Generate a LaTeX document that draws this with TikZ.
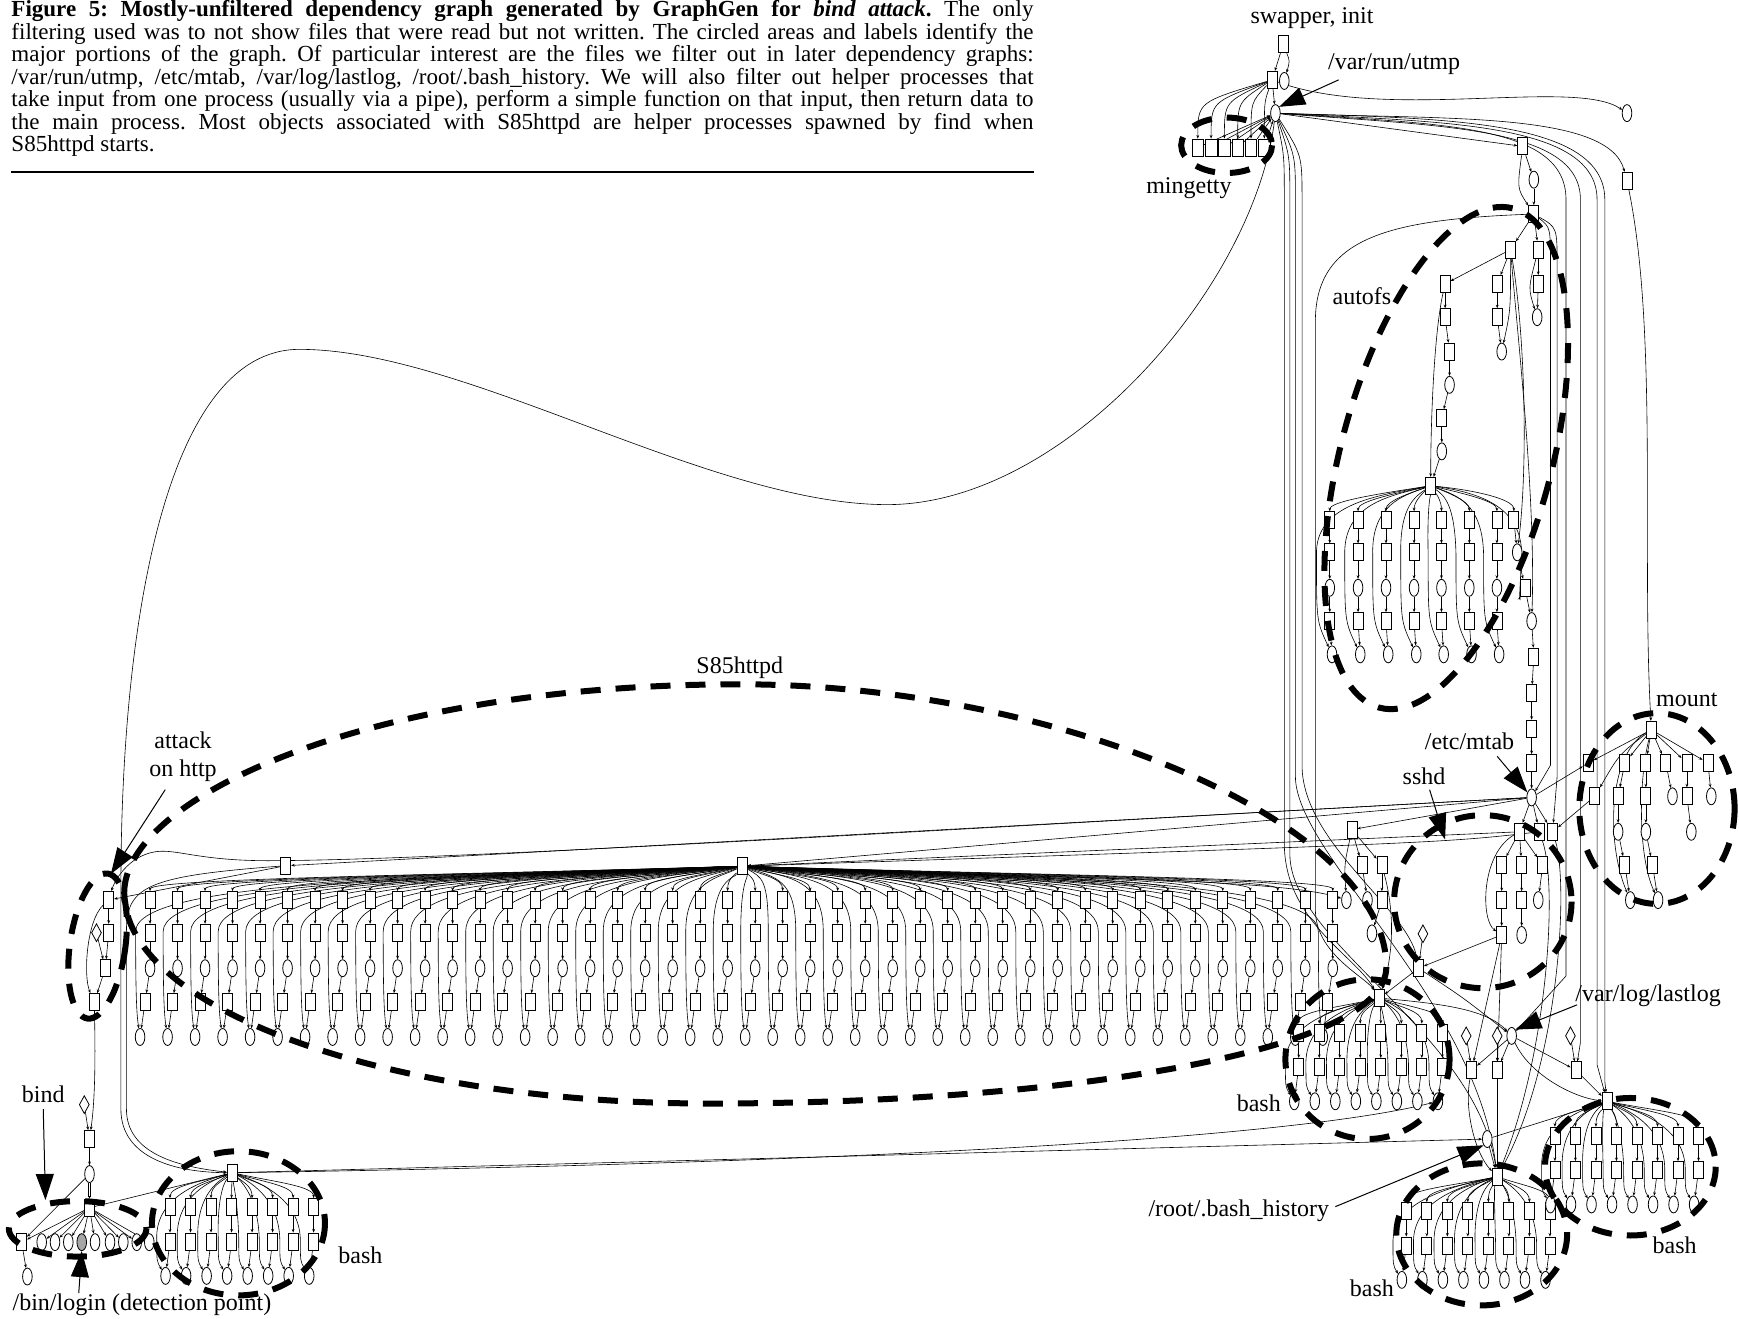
\documentclass[tikz,border=0pt]{standalone}
\usepackage{fontspec}
\setmainfont{Liberation Serif}
\usetikzlibrary{shapes.geometric,arrows.meta}
\pgfdeclarelayer{bg}
\pgfsetlayers{bg,main}
\frenchspacing
\newcommand\bashgrp[4]{%
  \node[sq] (#1) at (#2,#3) {};
  \foreach \i in {0,...,7}{%
    \pgfmathsetmacro\xx{#4+18.5*\i}%
    \node[sq] (#1a\i) at (\xx,#3+31) {};
    \node[sq] (#1b\i) at (\xx,#3+62) {};
    \node[el] (#1c\i) at (\xx-4,#3+93) {};
    \begin{pgfonlayer}{bg}
    \draw[ed] (#1) .. controls ({(#2+\xx)/2},#3+8) and (\xx,#3+12) .. (#1a\i);
    \draw[ed] (#1a\i) -- (#1b\i);
    \draw[ed] (#1b\i) -- (#1c\i);
    \draw[ed] (#1) .. controls ({(#2+\xx)/2-8},#3+10) and (\xx-13,#3+25) .. (\xx-12,#3+60) .. controls (\xx-12,#3+80) .. (#1c\i);
    \end{pgfonlayer}
  }}
\begin{document}
\begin{tikzpicture}[x=0.5545pt,y=-0.5545pt,
 sq/.style={draw, rectangle, line width=0.4pt, minimum width=5pt, minimum height=8.5pt, inner sep=0pt, fill=white},
 el/.style={draw, ellipse, line width=0.4pt, minimum width=4.8pt, minimum height=8.5pt, inner sep=0pt, fill=white},
 dm/.style={draw, diamond, line width=0.4pt, minimum width=5pt, minimum height=9pt, inner sep=0pt, fill=white},
 ed/.style={line width=0.3pt, -{Stealth[length=1.8pt,width=1.4pt]}},
 zone/.style={line width=3pt, dash pattern=on 10pt off 7.5pt},
 bigarr/.style={line width=0.5pt, -{Triangle[length=13pt,width=9pt]}},
 lbl/.style={font=\fontsize{12}{14}\selectfont, inner sep=0pt},
 capl/.style={font=\fontsize{11.5}{12}\selectfont, inner sep=0pt, anchor=base west}]
\useasboundingbox (0,0) rectangle (1568,1189);

% ---------------- caption ----------------
\node[capl] (cl1) at (10,15) {\makebox[511pt][s]{\textbf{Figure 5: Mostly-unfiltered dependency graph generated by GraphGen for \textit{bind attack}.} The only}};
\node[capl] (cl2) at (10,35.3) {\makebox[511pt][s]{filtering used was to not show files that were read but not written. The circled areas and labels identify the}};
\node[capl] (cl3) at (10,55.7) {\makebox[511pt][s]{major portions of the graph. Of particular interest are the files we filter out in later dependency graphs:}};
\node[capl] (cl4) at (10,76) {\makebox[511pt][s]{/var/run/utmp, /etc/mtab, /var/log/lastlog, /root/.bash\_history. We will also filter out helper processes that}};
\node[capl] (cl5) at (10,96.3) {\makebox[511pt][s]{take input from one process (usually via a pipe), perform a simple function on that input, then return data to}};
\node[capl] (cl6) at (10,116.7) {\makebox[511pt][s]{the main process. Most objects associated with S85httpd are helper processes spawned by find when}};
\node[capl] (cl7) at (10,137) {S85httpd starts.};
\coordinate (rl) at (10,155); \coordinate (rr) at (932,155);
\draw[line width=0.7pt] (rl) -- (rr);

% ---------------- top: swapper / init / utmp ----------------
\node[sq] (sw) at (1157,40) {};
\node[sq] (init) at (1147,72) {};
\node[el] (iel) at (1158,73) {};
\node[el] (utmp) at (1150,102) {};
\foreach \i in {0,...,5}{\node[sq, minimum width=5.8pt] (mg\i) at ({1080+12*\i},133) {};}
\node[el] (e1) at (1467,102) {};
\node[sq] (r1) at (1373,132) {};
\node[el] (r2) at (1383,162) {};
\node[sq] (ar) at (1383,193) {};
\node[sq] (r3) at (1467,163) {};

% ---------------- autofs ----------------
\node[sq] (a1) at (1362,225) {};
\node[sq] (a2) at (1387,225) {};
\node[sq] (b1) at (1350,256) {};
\node[sq] (a3) at (1387,256) {};
\node[sq] (b2) at (1350,286) {};
\node[el] (a4) at (1386,286) {};
\node[el] (b3) at (1354,317) {};
\node[sq] (c0) at (1303,256) {};
\node[sq] (c1) at (1303,286) {};
\node[sq] (c2) at (1307,317) {};
\node[el] (c3) at (1307,347) {};
\node[sq] (c4) at (1300,377) {};
\node[el] (c5) at (1300,407) {};
\node[sq] (AH) at (1290,438) {};
\foreach \x [count=\j] in {1199,1224.5,1249.7,1275,1299.7,1324.8,1349.7}{
  \node[sq] (fa\j) at (\x,469) {};
  \node[sq] (fb\j) at (\x,498) {};
  \node[el] (fc\j) at (\x,530) {};
  \node[sq] (fd\j) at (\x,560) {};
  \node[el] (fe\j) at (\x+2,590) {};
  \begin{pgfonlayer}{bg}
  \draw[ed] (AH) .. controls ({(1290+\x)/2},445) and (\x,452) .. (fa\j);
  \draw[ed] (fa\j) -- (fb\j);
  \draw[ed] (fb\j) -- (fc\j);
  \draw[ed] (fc\j) -- (fd\j);
  \draw[ed] (fd\j) -- (fe\j);
  \draw[ed] (AH) .. controls ({(1290+\x)/2-5},447) and (\x-13,455) .. (\x-12,500) .. controls (\x-12,560) .. (fe\j);
  \end{pgfonlayer}
}
\node[sq] (k1) at (1365,469) {};
\node[el] (k2) at (1368,498) {};
\node[sq] (k3) at (1375,530) {};
\node[el] (k4) at (1381,560) {};
\node[sq] (k5) at (1383,592) {};
\node[sq] (k6) at (1381,625) {};
\node[sq] (k7) at (1381,657) {};
\node[sq] (k8) at (1381,688) {};
\node[el] (mtab) at (1381,719) {};

% ---------------- mount ----------------
\node[sq] (mH) at (1489,658) {};
\foreach \x [count=\j] in {1432,1465,1484,1502,1521,1540}{\node[sq] (n1\j) at (\x,688) {};}
\node[sq] (n21) at (1438,718) {};
\node[sq] (n22) at (1459,718) {};
\node[sq] (n23) at (1484,718) {};
\node[el] (n24) at (1508,718) {};
\node[sq] (n25) at (1521,718) {};
\node[el] (n26) at (1543,718) {};
\node[el] (n31) at (1459,750) {};
\node[el] (n32) at (1484,750) {};
\node[el] (n33) at (1525,750) {};
\node[sq] (n41) at (1465,780) {};
\node[sq] (n42) at (1490,780) {};
\node[el] (n51) at (1470,811.6) {};
\node[el] (n52) at (1495,811.6) {};

% ---------------- sshd ----------------
\node[sq] (s1) at (1370,750) {};
\node[sq] (s2) at (1388,750) {};
\node[sq] (s3) at (1400,750) {};
\node[sq] (t1) at (1354,780) {};
\node[sq] (t2) at (1372,780) {};
\node[sq] (t3) at (1391,780) {};
\node[sq] (u1) at (1354,811.6) {};
\node[sq] (u2) at (1372,811.6) {};
\node[el] (u3) at (1387,811.6) {};
\node[sq] (v1) at (1354,843) {};
\node[el] (v2) at (1372,843) {};
\node[sq] (S) at (1279,873) {};
\node[dm] (dS) at (1283,842) {};

% ---------------- S85httpd ----------------
\node[sq] (H) at (669,781) {};
\node[sq] (T) at (257.6,780.6) {};
\foreach \k in {0,...,43}{
  \pgfmathsetmacro\xx{135.3+24.8*\k}
  \node[sq] (pa\k) at (\xx,811.5) {};
  \node[sq] (pb\k) at (\xx,841) {};
  \node[el] (pc\k) at (\xx,873) {};
  \node[sq] (pd\k) at (\xx-4.5,903.5) {};
  \node[el] (pe\k) at (\xx-9,935) {};
  \begin{pgfonlayer}{bg}
  \draw[ed] (H) .. controls ({(669+\xx)/2},789) and (\xx,792) .. (pa\k);
  \draw[ed] (pa\k) -- (pb\k);
  \draw[ed] (pb\k) -- (pc\k);
  \draw[ed] (pc\k) -- (pd\k);
  \draw[ed] (pd\k) -- (pe\k);
  \draw[ed] (H) .. controls ({(669+\xx)/2},791) and (\xx-13,793) .. (\xx-13,840) .. controls (\xx-13,900) and (\xx-12,915) .. (pe\k);
  \end{pgfonlayer}
}
\node[sq] (X0) at (1219,748) {};
\node[sq] (X1) at (1228,780) {};
\node[sq] (X2) at (1246,780) {};
\node[el] (Xa) at (1214,811.6) {};
\node[el] (Xb) at (1233,811.6) {};
\node[sq] (X3) at (1246,811.6) {};
\node[el] (Xc) at (1237,841.6) {};

% ---------------- attack on http ----------------
\node[sq] (A1) at (98,811.5) {};
\node[sq] (A2) at (98,841) {};
\node[dm] (dA) at (87,841) {};
\node[sq] (A3) at (95,873) {};
\node[sq] (A4) at (85,903.5) {};

% ---------------- bind ----------------
\node[dm] (dB) at (76,996) {};
\node[sq] (B1) at (80.7,1027) {};
\node[el] (B2) at (80.7,1058.6) {};
\node[sq] (BH) at (80.7,1089) {};
\node[sq] (Bs) at (19.5,1120) {};
\node[el] (Be) at (24.7,1151) {};
\foreach \x [count=\j] in {37.6,49.6,61.6,85.7,99.2,111.2,123.3,134.6}{\node[el] (bb\j) at (\x,1120) {};}
\node[el, fill=black!35] (login) at (73.7,1120) {};

% ---------------- bash clusters ----------------
\bashgrp{LH}{209.5}{1057.4}{153.3}
\bashgrp{MH}{1244}{900}{1171}
\bashgrp{BBH}{1350}{1061}{1268}
\bashgrp{RH}{1449}{993}{1402}

% ---------------- lastlog / bash_history ----------------
\node[el] (LL) at (1363,934) {};
\node[dm] (D1) at (1322,934) {};
\node[dm] (D2) at (1350,934) {};
\node[dm] (D3) at (1416,934) {};
\node[sq] (L1) at (1327,965) {};
\node[sq] (L2) at (1350,965) {};
\node[sq] (L3) at (1421,965) {};
\node[el] (BHx) at (1341,1027) {};

% ---------------- edges ----------------
\begin{pgfonlayer}{bg}
\draw[ed] (sw) -- (init);
\draw[ed] (sw) .. controls (1163,55) .. (iel);
\draw[ed] (init) -- (utmp);
\foreach \i in {0,...,5}{\draw[ed] (init) .. controls ({1080+12*\i},92) .. (mg\i); \draw[ed] (mg\i) -- (utmp);}
\draw[ed] (init) .. controls (1250,110) and (1420,70) .. (e1);
\draw[ed] (utmp) -- (r1);
\draw[ed] (utmp) .. controls (1300,108) and (1450,100) .. (r3);
\draw[ed] (r1) -- (r2);
\draw[ed] (r2) -- (ar);
\draw[ed] (r1) .. controls (1368,170) .. (ar);
\draw[ed] (r3) .. controls (1495,300) and (1480,500) .. (mH);
% right bundle
\draw[ed] (utmp) .. controls (1300,112) and (1412,112) .. (1412,180) -- (1412,880) -- (LL);
\draw[ed] (utmp) .. controls (1300,114) and (1425,114) .. (1425,180) -- (1425,940) -- (L3);
\draw[ed] (utmp) .. controls (1300,110) and (1440,110) .. (1440,180) -- (1440,960) -- (RH);
\draw[ed] (utmp) .. controls (1300,107) and (1447,107) .. (1447,180) -- (1447,975) -- (RH);
\draw[ed] (ar) .. controls (1398,205) .. (1398,240) -- (1398,690) -- (mtab);
\draw[ed] (ar) .. controls (1404,205) .. (1404,240) -- (1404,700) -- (s3);
% left bundle
\draw[ed] (utmp) .. controls (1158,140) .. (1158,180) -- (1158,760) .. controls (1158,830) and (1220,860) .. (MH);
\draw[ed] (utmp) .. controls (1163,140) .. (1163,180) -- (1163,770) .. controls (1163,850) and (1330,930) .. (BBH);
\draw[ed] (utmp) .. controls (1168,140) .. (1168,180) -- (1168,700) .. controls (1168,770) and (1330,900) .. (BBH);
\draw[ed] (utmp) .. controls (1174,140) .. (1174,180) -- (1174,690) .. controls (1174,760) and (1270,820) .. (S);
\draw[ed] (ar) .. controls (1250,198) and (1186,215) .. (1186,290) -- (1186,820) .. controls (1186,860) and (1230,880) .. (MH);
% big S curve
\draw[ed] (utmp) .. controls (1130,260) and (960,455) .. (800,455) .. controls (640,455) and (420,315) .. (270,315) .. controls (150,315) and (109,560) .. (109,800) -- (109,1000) .. controls (109,1045) and (160,1057) .. (LH);
\draw[ed] (T) .. controls (130,790) and (114,800) .. (114,840) -- (114,1000) .. controls (114,1040) and (160,1052) .. (LH);
% autofs internals
\draw[ed] (ar) -- (a1);
\draw[ed] (ar) -- (a2);
\draw[ed] (a1) -- (c0);
\draw[ed] (a1) -- (b1);
\draw[ed] (b1) -- (b2);
\draw[ed] (b2) -- (b3);
\draw[ed] (a1) .. controls (1362,280) .. (b3);
\draw[ed] (a2) -- (a3);
\draw[ed] (a3) -- (a4);
\draw[ed] (a2) .. controls (1378,260) .. (a4);
\draw[ed] (c0) -- (c1);
\draw[ed] (c1) -- (c2);
\draw[ed] (c2) -- (c3);
\draw[ed] (c3) -- (c4);
\draw[ed] (c4) -- (c5);
\draw[ed] (c5) -- (AH);
\draw[ed] (c0) .. controls (1293,300) and (1290,380) .. (AH);
\draw[ed] (a1) .. controls (1375,300) and (1378,420) .. (k2);
\draw[ed] (a1) .. controls (1368,300) and (1385,450) .. (k4);
\draw[ed] (AH) .. controls (1330,442) and (1365,450) .. (k1);
\draw[ed] (AH) .. controls (1340,445) and (1372,460) .. (1372,500) .. controls (1370,540) .. (k3);
\draw[ed] (k1) -- (k2);
\draw[ed] (k2) -- (k3);
\draw[ed] (k3) -- (k4);
\draw[ed] (k4) -- (k5);
\draw[ed] (k5) -- (k6);
\draw[ed] (k6) -- (k7);
\draw[ed] (k7) -- (k8);
\draw[ed] (k8) -- (mtab);
% mtab fan
\draw[ed] (mtab) -- (T);
\draw[ed] (mtab) -- (H);
\draw[ed] (mtab) .. controls (900,745) and (420,775) .. (250,776) .. controls (180,777) and (160,765) .. (140,768) .. controls (115,772) and (103,795) .. (A1);
\draw[ed] (T) -- (A1);
\draw[ed] (mtab) -- (X0);
\draw[ed] (mtab) -- (s1);
\draw[ed] (mtab) -- (s2);
\draw[ed] (mtab) -- (s3);
\draw[ed] (mtab) -- (n11);
\draw[ed] (s1) -- (H);
\draw[ed] (s2) .. controls (1300,760) .. (H);
% mount internals
\foreach \j in {1,...,6}{\draw[ed] (mH) -- (n1\j);}
\draw[ed] (mH) .. controls (1460,680) .. (n21);
\draw[ed] (n21) -- (s3);
\draw[ed] (n12) -- (n22);
\draw[ed] (n22) -- (n31);
\draw[ed] (n31) -- (n41);
\draw[ed] (n41) -- (n51);
\draw[ed] (n13) -- (n23);
\draw[ed] (n23) -- (n32);
\draw[ed] (n32) -- (n42);
\draw[ed] (n42) -- (n52);
\draw[ed] (n14) -- (n24);
\draw[ed] (n15) -- (n25);
\draw[ed] (n25) -- (n33);
\draw[ed] (n16) -- (n26);
\draw[ed] (mH) .. controls (1450,680) and (1448,760) .. (n51);
\draw[ed] (mH) .. controls (1478,700) and (1476,770) .. (n52);
% sshd internals
\draw[ed] (s1) -- (t1);
\draw[ed] (s1) -- (t2);
\draw[ed] (s1) -- (t3);
\draw[ed] (t1) -- (u1);
\draw[ed] (u1) -- (v1);
\draw[ed] (t2) -- (u2);
\draw[ed] (u2) -- (v2);
\draw[ed] (t3) -- (u3);
\draw[ed] (s1) .. controls (1335,770) and (1335,830) .. (v1);
\draw[ed] (v1) -- (S);
\draw[ed] (dS) -- (S);
\draw[ed] (S) -- (MH);
\draw[ed] (S) .. controls (1320,900) .. (LL);
\draw[ed] (v1) -- (L1);
\draw[ed] (v1) -- (L2);
\draw[ed] (s2) .. controls (1405,800) and (1395,950) .. (BBH);
\draw[ed] (s3) .. controls (1415,800) and (1405,960) .. (BBH);
% X group
\draw[ed] (X0) -- (X1);
\draw[ed] (X0) -- (X2);
\draw[ed] (X1) -- (Xb);
\draw[ed] (X2) -- (X3);
\draw[ed] (X3) -- (Xc);
\draw[ed] (X0) .. controls (1212,780) .. (Xa);
\draw[ed] (H) .. controls (900,792) and (1150,790) .. (Xa);
\draw[ed] (X2) .. controls (1262,840) and (1250,880) .. (MH);
% attack
\draw[ed] (A1) -- (A2);
\draw[ed] (A2) -- (A3);
\draw[ed] (dA) -- (A3);
\draw[ed] (A3) -- (A4);
\draw[ed] (A1) .. controls (78,830) and (75,880) .. (A4);
\draw[ed] (A4) .. controls (86,950) and (86,990) .. (B1);
% bind
\draw[ed] (dB) -- (B1);
\draw[ed] (B1) -- (B2);
\draw[ed, double, double distance=0.8pt, line width=0.3pt] (B2) -- (BH);
\foreach \j in {1,...,8}{\draw[ed] (BH) -- (bb\j);}
\draw[ed] (BH) -- (login);
\draw[ed] (BH) -- (Bs);
\draw[ed] (Bs) -- (Be);
\draw[ed] (B2) -- (Bs);
\draw[ed] (BH) -- (LH);
% lastlog etc.
\draw[ed] (D1) -- (L1);
\draw[ed] (D2) -- (L2);
\draw[ed] (D3) -- (L3);
\draw[ed] (LL) -- (L1);
\draw[ed] (LL) -- (L2);
\draw[ed] (LL) -- (L3);
\draw[ed] (LL) .. controls (1380,970) and (1420,990) .. (RH);
\draw[ed] (MH) .. controls (1300,905) and (1340,910) .. (LL);
\draw[ed] (L2) -- (BBH);
\draw[ed] (L3) -- (RH);
\draw[ed] (L1) .. controls (1320,1000) and (1330,1040) .. (BBH);
\draw[ed] (BHx) -- (BBH);
\draw[ed] (BHx) -- (RH);
\draw[ed] (LH) -- (BHx);
\draw[ed] (LH) .. controls (700,1050) and (1150,1030) .. (MHc7);
\end{pgfonlayer}

% ---------------- zones ----------------
\draw[zone] (1106,131) ellipse [x radius=41, y radius=25];
\draw[zone, rotate around={-15:(1304,413)}] (1304,413) ellipse [x radius=95, y radius=233];
\draw[zone] (112,805) .. controls (112,720) and (330,617) .. (667,617) .. controls (950,617) and (1250,740) .. (1250,872) .. controls (1250,950) and (950,995) .. (640,995) .. controls (350,995) and (112,910) .. (112,805) -- cycle;
\draw[zone, rotate around={-8:(88,853)}] (88,853) ellipse [x radius=25, y radius=66];
\draw[zone] (1337,813) ellipse [x radius=80, y radius=78];
\draw[zone] (1494,729) ellipse [x radius=70, y radius=86];
\draw[zone] (1233,955) ellipse [x radius=74, y radius=72];
\draw[zone] (1336,1113) ellipse [x radius=77, y radius=64];
\draw[zone] (1470,1052) ellipse [x radius=77, y radius=62];
\draw[zone] (215,1103) ellipse [x radius=78, y radius=65];
\draw[zone] (70,1108) ellipse [x radius=62, y radius=25];

% ---------------- labels ----------------
\node[lbl] (lsw) at (1183,16) {swapper, init};
\node[lbl] (lut) at (1257,58) {/var/run/utmp};
\coordinate (lutA) at (1207,72);
\draw[bigarr] (lutA) -- (utmp.north east);
\node[lbl] (lmg) at (1072,170) {mingetty};
\node[lbl] (laf) at (1228,267) {autofs};
\node[lbl] (l85) at (667,602) {S85httpd};
\node[lbl, align=center] (lat) at (165,682) {attack\\on http};
\coordinate (latA) at (149,712); \coordinate (latT) at (100,788);
\draw[bigarr] (latA) -- (latT);
\node[lbl] (lmo) at (1521,631) {mount};
\node[lbl] (lmt) at (1325,668) {/etc/mtab};
\coordinate (lmtA) at (1350,682);
\draw[bigarr] (lmtA) -- (mtab);
\node[lbl] (lsh) at (1284,700) {sshd};
\coordinate (lshA) at (1289,712); \coordinate (lshT) at (1303,757);
\draw[bigarr] (lshA) -- (lshT);
\node[lbl] (lll) at (1486,898) {/var/log/lastlog};
\coordinate (lllA) at (1422,906);
\draw[bigarr] (lllA) -- (LL.north east);
\node[lbl] (lb1) at (1135,995) {bash};
\node[lbl] (lbd) at (39,987) {bind};
\coordinate (lbdA) at (39,1000); \coordinate (lbdT) at (41,1082);
\draw[bigarr] (lbdA) -- (lbdT);
\node[lbl] (lbh) at (1117,1092) {/root/.bash\_history};
\coordinate (lbhA) at (1204,1088);
\draw[bigarr] (lbhA) -- (BHx.south west);
\node[lbl] (lb2) at (325,1132) {bash};
\node[lbl] (lb3) at (1510,1123) {bash};
\node[lbl] (lb4) at (1237,1162) {bash};
\node[lbl] (lbl) at (128,1176) {/bin/login (detection point)};
\coordinate (lblA) at (71,1166);
\draw[bigarr] (lblA) -- (login.south);
\end{tikzpicture}
\end{document}
